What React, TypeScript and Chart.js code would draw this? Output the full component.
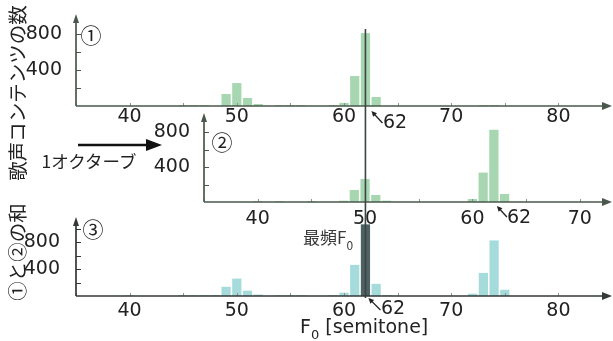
import React, { useEffect, useRef } from "react";
import { Chart, registerables } from "chart.js";

Chart.register(...registerables);

// ---------- data (semitone bins and counts) ----------
// ① original F0 histogram
const semitones1 = [45, 46, 47, 49, 50, 51, 52, 54, 55, 56, 59, 60, 61, 62, 63, 73, 74];
const counts1 = [10, 10, 10, 133, 255, 89, 22, 10, 10, 10, 10, 35, 333, 810, 100, 10, 10];
// ② histogram plotted one octave shifted
const semitones2 = [40, 42, 45, 48, 49, 50, 51, 52, 60, 61, 62, 63];
const counts2 = [10, 10, 10, 15, 138, 265, 81, 15, 35, 338, 830, 92];
// ③ sum of ① and ②
const semitones3 = [40, 45, 46, 47, 48, 49, 50, 51, 52, 54, 55, 56, 59, 60, 61, 62, 63, 64, 72, 73, 74, 75];
const counts3 = [10, 10, 10, 10, 15, 138, 260, 80, 22, 10, 10, 10, 12, 50, 465, 1070, 182, 15, 35, 345, 830, 93];

const xTicksWide = [40, 50, 60, 70, 80];
const xTicksOctave = [40, 50, 60, 70];
const yTickLabels = [400, 800];
const xMinorStep = 5;
const yMinorStep = 200;
const modeF0 = 62;
const modeLabel = "62";

const W = 613;
const H = 341;
const TICK_FONT = "'DejaVu Sans', sans-serif";
const JP_FONT = "'Noto Sans CJK JP', 'Noto Sans', sans-serif";

type PanelCfg = {
  semis: number[];
  counts: number[];
  color: string;
  modeColor?: string;
  left: number;
  right: number;
  top: number;
  bottom: number;
  xMin: number;
  xMax: number;
  yMax: number;
  xTicks: number[];
  xPad: number;
  yPad: number;
  axisColor: string;
  arrow: [number, number, number, number];
  modeLine?: [number, number];
};

const panels: PanelCfg[] = [
  {
    semis: semitones1, counts: counts1, color: "#a7d7b1",
    left: 76, right: 612, top: 16, bottom: 106,
    xMin: 35, xMax: 85, yMax: 1000, xTicks: xTicksWide, xPad: -6, yPad: 6,
    axisColor: "#4a584b", arrow: [17, 17, 6, 5],
  },
  {
    semis: semitones2, counts: counts2, color: "#a7d7b1",
    left: 204, right: 612, top: 115, bottom: 202,
    xMin: 35, xMax: 73, yMax: 1000, xTicks: xTicksOctave, xPad: 0, yPad: 6,
    axisColor: "#4a584b", arrow: [13, 15, 3, 4],
  },
  {
    semis: semitones3, counts: counts3, color: "#a6dbdb", modeColor: "#4e6264",
    left: 76, right: 612, top: 219, bottom: 296,
    xMin: 35, xMax: 85, yMax: 1150, xTicks: xTicksWide, xPad: -2.5, yPad: 8,
    axisColor: "#333838", arrow: [15, 14, 3, 2], modeLine: [29, 298],
  },
];

function makePlugin(cfg: PanelCfg) {
  return {
    id: "axesArrows",
    afterDatasetsDraw(chart: any) {
      const { ctx, chartArea: a } = chart;
      const x = chart.scales.x;
      const y = chart.scales.y;
      ctx.save();
      // mode line (drawn through bars)
      if (cfg.modeLine) {
        const mx = x.getPixelForValue(modeF0);
        ctx.strokeStyle = "#3d4444";
        ctx.lineWidth = 1.6;
        ctx.beginPath();
        ctx.moveTo(mx, cfg.modeLine[0]);
        ctx.lineTo(mx, cfg.modeLine[1]);
        ctx.stroke();
      }
      // inward tick marks
      ctx.strokeStyle = cfg.axisColor;
      ctx.lineWidth = 1;
      ctx.beginPath();
      for (let v = yMinorStep; v < y.max; v += yMinorStep) {
        const py = Math.round(y.getPixelForValue(v)) + 0.5;
        ctx.moveTo(a.left, py);
        ctx.lineTo(a.left + 5, py);
      }
      ctx.stroke();
      ctx.strokeStyle = "#8a948a";
      ctx.beginPath();
      for (let v = Math.ceil(x.min / xMinorStep) * xMinorStep; v < x.max; v += xMinorStep) {
        const px = Math.round(x.getPixelForValue(v)) + 0.5;
        ctx.moveTo(px, a.bottom);
        ctx.lineTo(px, a.bottom - 3);
      }
      ctx.stroke();
      // axis lines
      ctx.strokeStyle = cfg.axisColor;
      ctx.fillStyle = cfg.axisColor;
      ctx.lineWidth = 1.7;
      ctx.beginPath();
      ctx.moveTo(a.left, a.bottom);
      ctx.lineTo(a.right - 6, a.bottom);
      ctx.moveTo(a.left, a.bottom);
      ctx.lineTo(a.left, a.top + 4);
      ctx.stroke();
      // arrow heads
      ctx.beginPath();
      ctx.moveTo(a.right, a.bottom);
      ctx.lineTo(a.right - 10, a.bottom - 4);
      ctx.lineTo(a.right - 10, a.bottom + 4);
      ctx.closePath();
      ctx.fill();
      ctx.beginPath();
      ctx.moveTo(a.left, a.top - 2);
      ctx.lineTo(a.left - 3, a.top + 7);
      ctx.lineTo(a.left + 3, a.top + 7);
      ctx.closePath();
      ctx.fill();
      // small arrow pointing at the mode bin
      const bx = x.getPixelForValue(modeF0);
      const [tdx, tdy, hdx, hdy] = cfg.arrow;
      const tx = bx + tdx, ty = a.bottom + tdy;
      const hx = bx + hdx, hy = a.bottom + hdy;
      const ang = Math.atan2(hy - ty, hx - tx);
      ctx.strokeStyle = "#222";
      ctx.fillStyle = "#222";
      ctx.lineWidth = 1.3;
      ctx.beginPath();
      ctx.moveTo(tx, ty);
      ctx.lineTo(hx - 3 * Math.cos(ang), hy - 3 * Math.sin(ang));
      ctx.stroke();
      ctx.beginPath();
      ctx.moveTo(hx, hy);
      ctx.lineTo(hx - 6 * Math.cos(ang - 0.45), hy - 6 * Math.sin(ang - 0.45));
      ctx.lineTo(hx - 6 * Math.cos(ang + 0.45), hy - 6 * Math.sin(ang + 0.45));
      ctx.closePath();
      ctx.fill();
      ctx.restore();
    },
  };
}

function Panel({ cfg }: { cfg: PanelCfg }) {
  const ref = useRef<HTMLCanvasElement>(null);
  useEffect(() => {
    if (!ref.current) return;
    const data = cfg.semis.map((s, i) => ({ x: s, y: cfg.counts[i] }));
    const colors = cfg.semis.map((s) => (cfg.modeColor && s === modeF0 ? cfg.modeColor : cfg.color));
    const chart = new Chart(ref.current, {
      type: "bar",
      data: {
        datasets: [
          {
            data: data as any,
            backgroundColor: colors,
            borderWidth: 0,
            barPercentage: 0.86,
            categoryPercentage: 1,
          },
        ],
      },
      options: {
        responsive: false,
        animation: false,
        devicePixelRatio: 1,
        layout: {
          padding: { left: 0, right: W - cfg.right, top: cfg.top, bottom: 0 },
        },
        plugins: { legend: { display: false }, tooltip: { enabled: false } },
        scales: {
          x: {
            type: "linear",
            min: cfg.xMin,
            max: cfg.xMax,
            offset: false,
            grid: { display: false },
            border: { display: false },
            ticks: {
              autoSkip: false,
              maxRotation: 0,
              padding: cfg.xPad,
              color: "#222",
              font: { family: TICK_FONT, size: 19, lineHeight: 1 },
            },
            afterBuildTicks: (s: any) => {
              s.ticks = cfg.xTicks.map((v) => ({ value: v }));
            },
            afterFit: (s: any) => {
              s.height = H - cfg.bottom;
            },
          },
          y: {
            min: 0,
            max: cfg.yMax,
            grid: { display: false },
            border: { display: false },
            ticks: {
              autoSkip: false,
              padding: cfg.yPad,
              color: "#222",
              font: { family: TICK_FONT, size: 19, lineHeight: 1 },
            },
            afterBuildTicks: (s: any) => {
              s.ticks = yTickLabels.map((v) => ({ value: v }));
            },
            afterFit: (s: any) => {
              s.width = cfg.left;
            },
          },
        },
      } as any,
      plugins: [makePlugin(cfg)],
    });
    return () => chart.destroy();
  }, [cfg]);
  return (
    <canvas
      ref={ref}
      width={W}
      height={H}
      style={{ position: "absolute", left: 0, top: 0, width: W, height: H }}
    />
  );
}

const txt = (x: number, y: number, size: number, family: string, extra: any = {}) => ({
  position: "absolute" as const,
  left: x,
  top: y,
  transform: "translate(-50%, -50%)",
  fontSize: size,
  fontFamily: family,
  lineHeight: 1,
  whiteSpace: "nowrap" as const,
  color: "#222",
  ...extra,
});

export default function App() {
  return (
    <div style={{ position: "fixed", left: 0, top: 0, width: W, height: H, background: "#fff", overflow: "hidden" }}>
      {panels.map((p, i) => (
        <Panel key={i} cfg={p} />
      ))}
      <svg width={W} height={H} style={{ position: "absolute", left: 0, top: 0 }}>
        <line x1={78} y1={145} x2={148} y2={145} stroke="#111" strokeWidth={2.6} />
        <polygon points="162,145 146,139 146,151" fill="#111" />
      </svg>
      {/* axis titles */}
      <div style={txt(17, 93, 19.5, JP_FONT, { transform: "translate(-50%, -50%) rotate(-90deg)" })}>歌声コンテンツの数</div>
      <div style={txt(17, 252, 19.5, JP_FONT, { transform: "translate(-50%, -50%) rotate(-90deg)" })}>①と②の和</div>
      {/* panel markers */}
      <div style={txt(91, 34, 21, JP_FONT)}>①</div>
      <div style={txt(222, 141, 21, JP_FONT)}>②</div>
      <div style={txt(93, 228, 21, JP_FONT)}>③</div>
      {/* octave label */}
      <div style={txt(89, 161, 17.5, JP_FONT)}>1オクターブ</div>
      {/* mode labels */}
      <div style={txt(395, 121, 19, TICK_FONT)}>{modeLabel}</div>
      <div style={txt(519, 216, 19, TICK_FONT)}>{modeLabel}</div>
      <div style={txt(393, 307, 19, TICK_FONT)}>{modeLabel}</div>
      <div style={{ position: "absolute", left: 303, top: 228, fontSize: 17, fontFamily: JP_FONT, color: "#3a3a3a", lineHeight: 1, whiteSpace: "nowrap" }}>
        最頻F<span style={{ fontSize: 12, position: "relative", top: 6 }}>0</span>
      </div>
      {/* x axis title */}
      <div style={{ position: "absolute", left: 300, top: 317, fontSize: 19, fontFamily: TICK_FONT, color: "#222", lineHeight: 1, whiteSpace: "nowrap" }}>
        F<span style={{ fontSize: 13, position: "relative", top: 6 }}>0</span> [semitone]
      </div>
    </div>
  );
}
